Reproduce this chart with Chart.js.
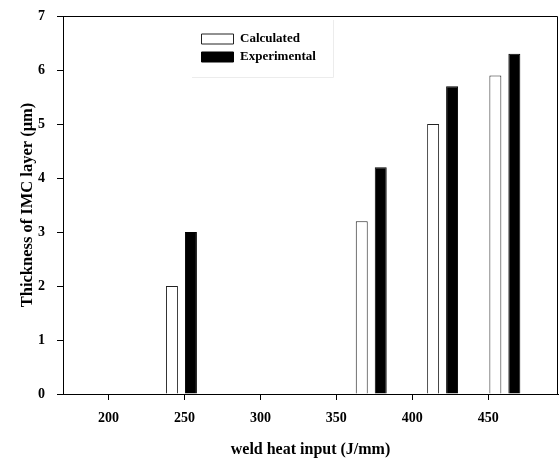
<!DOCTYPE html>
<html>
<head>
<meta charset="utf-8">
<script src="https://cdn.jsdelivr.net/npm/chart.js@4.4.0/dist/chart.umd.min.js"></script>
<style>
  html, body { margin: 0; padding: 0; background: #fff; }
</style>
</head>
<body>
<canvas id="imcChart" width="560" height="460"></canvas>
<script>
// weld heat input (J/mm) for each pair of bars
var heatInput = [248, 373, 420, 461];
// IMC layer thickness (um)
var calculated = [2.0, 3.2, 5.0, 5.9];
var experimental = [3.0, 4.2, 5.7, 6.3];
var xTicks = [200, 250, 300, 350, 400, 450];
var yTicks = [0, 1, 2, 3, 4, 5, 6, 7];

var serif = 'Liberation Serif, Times New Roman, serif';

function toPoints(values) {
  return values.map(function(v, i) { return { x: heatInput[i], y: v }; });
}

// top + right frame lines, and move legend into the plot
const framePlugin = {
  id: 'frame',
  afterLayout: function(chart) {
    var lg = chart.legend;
    if (!lg) return;
    var w = lg.width, h = lg.height;
    lg.left = 196.5;
    lg.top = 27.5;
    lg.right = lg.left + w;
    lg.bottom = lg.top + h;
  },
  afterDraw: function(chart) {
    var a = chart.chartArea;
    var ctx = chart.ctx;
    ctx.save();
    ctx.strokeStyle = '#000';
    ctx.lineWidth = 1;
    ctx.beginPath();
    ctx.moveTo(a.left, a.top + 0.5);
    ctx.lineTo(a.right - 0.5, a.top + 0.5);
    ctx.lineTo(a.right - 0.5, a.bottom);
    ctx.stroke();
    // faint legend frame edge
    ctx.strokeStyle = '#ececec';
    ctx.beginPath();
    ctx.moveTo(192, 77.5);
    ctx.lineTo(333.5, 77.5);
    ctx.lineTo(333.5, 20);
    ctx.stroke();
    ctx.restore();
  }
};

const imcChart = new Chart(document.getElementById('imcChart'), {
  type: 'bar',
  data: {
    datasets: [
      {
        label: 'Calculated',
        data: toPoints(calculated),
        backgroundColor: '#ffffff',
        borderColor: '#222222',
        borderWidth: 1
      },
      {
        label: 'Experimental',
        data: toPoints(experimental),
        backgroundColor: '#000000',
        borderColor: '#000000',
        borderWidth: 1
      }
    ]
  },
  options: {
    responsive: false,
    animation: false,
    categoryPercentage: 0.61,
    barPercentage: 0.63,
    layout: { padding: { top: 16, right: 2, left: 0, bottom: 0 } },
    plugins: {
      tooltip: { enabled: false },
      legend: {
        position: 'chartArea',
        align: 'start',
        labels: {
          color: '#000',
          boxWidth: 32,
          boxHeight: 10,
          padding: 5,
          font: { family: serif, weight: 'bold', size: 13 }
        }
      }
    },
    scales: {
      x: {
        type: 'linear',
        min: 170,
        max: 496,
        offset: false,
        afterBuildTicks: function(scale) {
          scale.ticks = xTicks.map(function(v) { return { value: v }; });
        },
        afterFit: function(scale) {
          scale.height = 66;
          scale.paddingLeft = 0;
          scale.paddingRight = 0;
        },
        grid: { offset: false, drawOnChartArea: false, drawTicks: true, tickLength: 6, tickColor: '#000' },
        border: { color: '#000', width: 1 },
        ticks: {
          color: '#000',
          padding: 10,
          maxRotation: 0,
          font: { family: serif, weight: 'bold', size: 14 }
        },
        title: {
          display: true,
          text: 'weld heat input (J/mm)',
          color: '#000',
          padding: { top: 0, bottom: 1 },
          font: { family: serif, weight: 'bold', size: 16 }
        }
      },
      y: {
        min: 0,
        max: 7,
        afterBuildTicks: function(scale) {
          scale.ticks = yTicks.map(function(v) { return { value: v }; });
        },
        afterFit: function(scale) {
          scale.width = 63;
          scale.paddingTop = 0;
          scale.paddingBottom = 0;
        },
        grid: { drawOnChartArea: false, drawTicks: true, tickLength: 6, tickColor: '#000' },
        border: { color: '#000', width: 1 },
        ticks: {
          color: '#000',
          padding: 12,
          font: { family: serif, weight: 'bold', size: 14 }
        },
        title: {
          display: true,
          text: 'Thickness of IMC layer (\u03bcm)',
          color: '#000',
          padding: { top: 18, bottom: 0 },
          font: { family: serif, weight: 'bold', size: 16.5 }
        }
      }
    }
  },
  plugins: [framePlugin]
});
</script>
</body>
</html>
